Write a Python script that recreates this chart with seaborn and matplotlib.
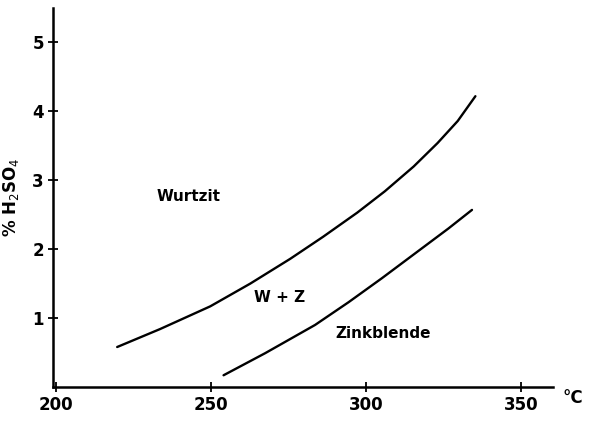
import matplotlib
matplotlib.use("Agg")
import matplotlib.pyplot as plt
import seaborn as sns
import pandas as pd

# upper boundary: Wurtzit / W+Z
upper_t = [219.7, 233.5, 249.7, 262.6, 275.5, 286.1, 297.1, 306.0, 315.3, 323.0, 329.5, 335.2]
upper_pct = [0.58, 0.84, 1.17, 1.50, 1.86, 2.18, 2.53, 2.84, 3.20, 3.54, 3.86, 4.22]

# lower boundary: W+Z / Zinkblende
lower_t = [254.0, 267.4, 283.5, 294.3, 305.1, 315.8, 326.5, 334.1]
lower_pct = [0.17, 0.49, 0.90, 1.23, 1.58, 1.94, 2.30, 2.57]

region_names = ["Wurtzit", "W + Z", "Zinkblende"]
region_t = [242.6, 272.0, 305.5]
region_pct = [2.76, 1.30, 0.77]

x_ticks = [200, 250, 300, 350]
y_ticks = [1, 2, 3, 4, 5]

sns.set_style("ticks", {"text.color": "black", "axes.labelcolor": "black",
                        "xtick.color": "black", "ytick.color": "black"})
plt.rcParams["font.family"] = ["DejaVu Sans"]

fig = plt.figure(figsize=(6.02, 4.22), dpi=100)
ax = fig.add_axes([0.088, 0.083, 0.831, 0.898])

upper_df = pd.DataFrame({"t": upper_t, "pct": upper_pct})
lower_df = pd.DataFrame({"t": lower_t, "pct": lower_pct})
sns.lineplot(data=upper_df, x="t", y="pct", color="black", linewidth=1.7, ax=ax)
sns.lineplot(data=lower_df, x="t", y="pct", color="black", linewidth=1.7, ax=ax)

for name, t, p in zip(region_names, region_t, region_pct):
    ax.text(t, p, name, ha="center", va="center", fontsize=11, fontweight="bold", color="black")

ax.set_xlim(199, 360.3)
ax.set_ylim(0, 5.5)
ax.set_xticks(x_ticks)
ax.set_yticks(y_ticks)
ax.tick_params(axis="both", direction="inout", length=7, width=1.3, labelsize=12, pad=3)
for lbl in ax.get_xticklabels() + ax.get_yticklabels():
    lbl.set_fontweight("bold")

ax.set_xlabel("")
ax.set_ylabel("% H$_2$SO$_4$", fontsize=12, fontweight="bold", labelpad=8, color="black")
fig.text(0.935, 0.035, "°C", fontsize=12, fontweight="bold", ha="left", va="bottom", color="black")

sns.despine(ax=ax)
for s in ["left", "bottom"]:
    ax.spines[s].set_linewidth(1.8)
    ax.spines[s].set_color("black")

fig.savefig("out.png", dpi=100)
